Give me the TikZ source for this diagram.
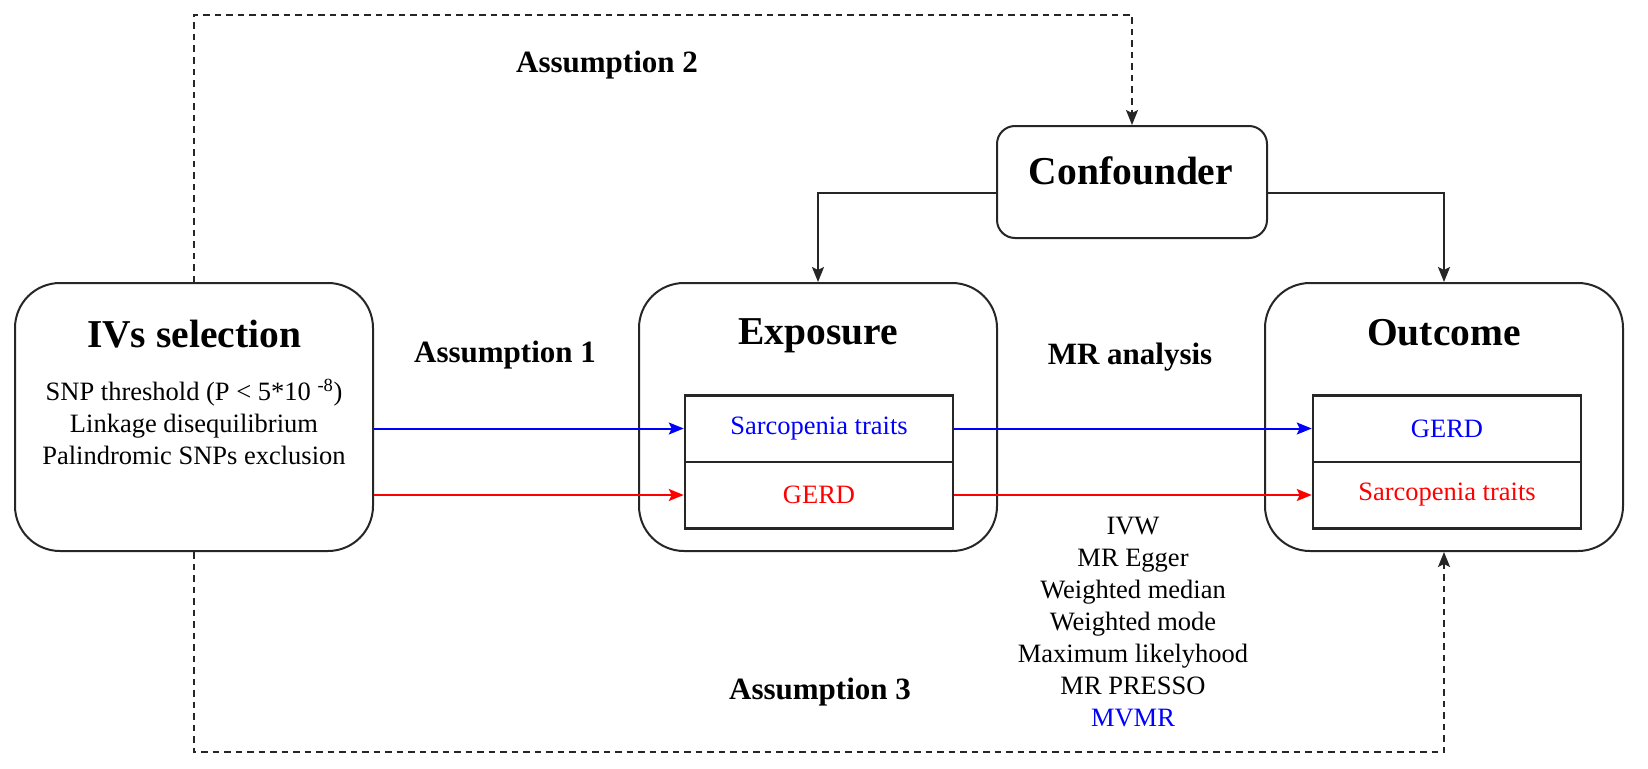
\documentclass[tikz,border=0pt]{standalone}
\usepackage{fontspec}
\setmainfont{Liberation Serif}
\usetikzlibrary{arrows.meta}
\begin{document}
\begin{tikzpicture}[x=1pt,y=-1pt,
  line/.style={draw=black!85, line width=2pt},
  tip/.style={-{Stealth[length=15pt,width=12pt,inset=3pt]}},
  arr/.style={line width=2pt, tip},
  dasharr/.style={draw=black!85, line width=2pt, dash pattern=on 6.5pt off 5pt, tip},
  bigbox/.style={line, rounded corners=45pt, minimum width=358pt, minimum height=268pt, inner sep=0pt},
  cell/.style={line, line width=2.5pt, minimum width=268pt, minimum height=66.5pt, inner sep=0pt, font=\fontsize{26.5}{30}\selectfont},
  title/.style={font=\fontsize{39.5}{44}\selectfont\bfseries, inner sep=0pt, text height=.72em, text depth=.22em},
  label/.style={font=\fontsize{31}{35}\selectfont\bfseries, inner sep=0pt, text height=.72em, text depth=.22em},
  body/.style={font=\fontsize{26.5}{30}\selectfont, inner sep=0pt, text height=.72em, text depth=.22em}
]
\useasboundingbox[fill=white] (0,0) rectangle (1648,768);

% boxes
\node[bigbox] (ivs) at (194,417) {};
\node[bigbox] (exp) at (818,417) {};
\node[bigbox] (out) at (1444,417) {};
\node[line, rounded corners=18pt, minimum width=270pt, minimum height=112pt, inner sep=0pt] (conf) at (1132,182) {};

% cells
\node[cell, text=blue] (sar) at (819,428.5) {Sarcopenia traits};
\node[cell, text=red] (gerd) at (819,495) {GERD};
\node[cell, text=blue] (ogerd) at (1447,428.5) {GERD};
\node[cell, text=red] (osar) at (1447,495) {Sarcopenia traits};

% titles
\node[title] (tivs) at (194,345) {IVs selection};
\node[title] (texp) at (818,342) {Exposure};
\node[title] (tout) at (1444,343) {Outcome};
\node[title] (tconf) at (1131,182) {Confounder};

\node[body] (l1) at (194,398) {SNP threshold (P < 5*10 \textsuperscript{-8})};
\node[body] (l2) at (194,430) {Linkage disequilibrium};
\node[body] (l3) at (194,462) {Palindromic SNPs exclusion};

% labels
\node[label] (a1) at (505,360) {Assumption 1};
\node[label] (mr) at (1130,362) {MR analysis};
\node[label] (a2) at (607,70) {Assumption 2};
\node[label] (a3) at (820,697) {Assumption 3};

% methods
\node[body] (m1) at (1133,532) {IVW};
\node[body] (m2) at (1133,564) {MR Egger};
\node[body] (m3) at (1133,596) {Weighted median};
\node[body] (m4) at (1133,628) {Weighted mode};
\node[body] (m5) at (1133,660) {Maximum likelyhood};
\node[body] (m6) at (1133,692) {MR PRESSO};
\node[body, text=blue] (m7) at (1133,724) {MVMR};

% connectors
\coordinate (tl) at (194,15);
\coordinate (bl) at (194,752);
\draw[dasharr] (ivs.north) -- (tl) -| (conf.north);
\draw[dasharr] (ivs.south) -- (bl) -| (out.south);

\draw[line, arr] ([yshift=-11pt]conf.west) -| (exp.north);
\draw[line, arr] ([yshift=-11pt]conf.east) -| (out.north);

\draw[draw=blue, arr, -{Stealth[length=15pt,width=12pt,inset=3pt,fill=blue]}] (ivs.east |- sar) -- (sar.west);
\draw[draw=red, arr, -{Stealth[length=15pt,width=12pt,inset=3pt,fill=red]}] (ivs.east |- gerd) -- (gerd.west);
\draw[draw=blue, arr, -{Stealth[length=15pt,width=12pt,inset=3pt,fill=blue]}] (sar.east) -- (ogerd.west);
\draw[draw=red, arr, -{Stealth[length=15pt,width=12pt,inset=3pt,fill=red]}] (gerd.east) -- (osar.west);
\end{tikzpicture}
\end{document}
